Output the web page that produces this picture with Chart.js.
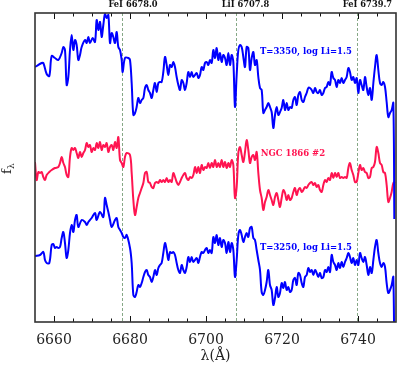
<!DOCTYPE html>
<html>
<head>
<meta charset="utf-8">
<script src="https://cdn.jsdelivr.net/npm/chart.js@4.4.1/dist/chart.umd.min.js"></script>
<style>
  html, body { margin: 0; padding: 0; background: #fff; }
  canvas { display: block; }
</style>
</head>
<body>
<canvas id="spec" width="397" height="365"></canvas>
<script>
// wavelength (A), relative flux (arbitrary, offset per spectrum)
const modelHot = [
  [6655.00,2.55],[6655.44,2.56],[6656.75,2.59],[6657.19,2.59],[6658.07,2.48],[6658.77,2.46],[6659.39,2.66],
  [6660.26,2.64],[6661.14,2.62],[6662.02,2.69],[6662.46,2.75],[6662.89,2.72],[6663.33,2.37],[6663.77,2.45],
  [6664.21,2.72],[6664.65,2.87],[6665.09,2.72],[6665.53,2.82],[6665.96,2.77],[6666.40,2.62],[6666.84,2.67],
  [6667.28,2.75],[6668.16,2.82],[6668.60,2.79],[6669.04,2.85],[6669.47,2.79],[6670.18,2.84],[6670.79,2.80],
  [6671.23,3.02],[6671.67,2.92],[6672.11,3.00],[6672.54,2.85],[6672.98,2.97],[6673.42,3.08],[6673.86,3.04],
  [6674.30,3.07],[6674.74,2.79],[6675.18,2.89],[6675.61,2.85],[6676.05,2.79],[6676.49,2.90],[6676.93,2.75],
  [6677.37,2.72],[6677.81,2.62],[6678.07,2.50],[6678.68,2.64],[6679.56,2.64],[6680.00,2.62],[6680.44,2.39],
  [6680.88,2.07],[6681.32,2.09],[6681.75,2.15],[6682.19,2.24],[6682.63,2.19],[6683.07,2.22],[6683.51,2.24],
  [6683.95,2.34],[6684.39,2.37],[6684.82,2.32],[6685.26,2.29],[6685.70,2.24],[6686.14,2.32],[6686.58,2.39],
  [6687.02,2.30],[6687.46,2.39],[6687.89,2.40],[6688.33,2.40],[6688.77,2.50],[6689.21,2.65],[6689.65,2.57],
  [6690.09,2.47],[6690.53,2.57],[6690.96,2.55],[6691.40,2.60],[6691.84,2.55],[6692.28,2.45],[6692.72,2.37],
  [6693.16,2.32],[6693.60,2.42],[6694.04,2.39],[6694.47,2.32],[6694.91,2.39],[6695.35,2.50],[6695.79,2.45],
  [6696.23,2.50],[6696.67,2.45],[6697.54,2.49],[6697.98,2.44],[6698.42,2.47],[6698.86,2.55],[6699.30,2.52],
  [6699.74,2.59],[6700.18,2.60],[6700.61,2.57],[6701.05,2.62],[6701.49,2.59],[6701.93,2.72],[6702.37,2.64],
  [6702.81,2.74],[6703.25,2.62],[6703.68,2.69],[6704.12,2.60],[6704.56,2.67],[6705.00,2.64],[6705.44,2.57],
  [6705.88,2.69],[6706.32,2.57],[6706.75,2.67],[6707.19,2.60],[6707.63,2.15],[6708.07,2.47],[6708.51,2.72],
  [6708.95,2.77],[6709.39,2.75],[6709.82,2.65],[6710.26,2.55],[6710.70,2.75],[6711.14,2.74],[6711.58,2.52],
  [6712.02,2.64],[6712.46,2.70],[6712.89,2.57],[6713.33,2.62],[6713.77,2.45],[6714.21,2.34],[6714.65,2.32],
  [6715.09,2.09],[6715.53,2.12],[6715.96,2.15],[6716.40,2.19],[6716.84,2.15],[6717.28,2.10],[6717.72,1.94],
  [6718.16,2.07],[6718.60,2.15],[6719.04,2.07],[6719.47,2.10],[6719.91,2.14],[6720.35,2.22],[6720.79,2.12],
  [6721.23,2.19],[6721.67,2.12],[6722.11,2.15],[6722.54,2.14],[6722.98,2.22],[6723.42,2.25],[6723.86,2.17],
  [6724.30,2.27],[6724.74,2.30],[6725.18,2.22],[6725.61,2.20],[6726.05,2.25],[6726.49,2.29],[6726.93,2.34],
  [6727.37,2.34],[6727.81,2.32],[6728.25,2.29],[6728.68,2.34],[6729.12,2.30],[6729.56,2.29],[6730.00,2.32],
  [6730.44,2.27],[6730.88,2.29],[6731.32,2.34],[6731.75,2.35],[6732.19,2.40],[6732.63,2.37],[6733.07,2.50],
  [6733.51,2.44],[6733.95,2.42],[6734.39,2.35],[6734.82,2.42],[6735.26,2.39],[6735.70,2.44],[6736.14,2.39],
  [6736.58,2.42],[6737.02,2.45],[6737.46,2.54],[6737.89,2.50],[6738.33,2.42],[6738.77,2.45],[6739.21,2.39],
  [6739.65,2.44],[6740.09,2.29],[6740.53,2.42],[6740.96,2.37],[6741.40,2.32],[6741.84,2.45],[6742.28,2.35],
  [6742.72,2.27],[6743.16,2.34],[6743.60,2.22],[6744.04,2.39],[6744.47,2.55],[6744.91,2.67],[6745.35,2.52],
  [6745.79,2.39],[6746.23,2.37],[6746.67,2.40],[6747.11,2.35],[6747.54,2.20],[6747.98,2.05],[6748.42,2.09],
  [6748.86,2.12],[6749.30,2.19],[6749.56,1.03]
];

const ngc1866 = [
  [6655.00,1.60],[6655.44,1.42],[6655.88,1.50],[6656.32,1.49],[6656.75,1.50],[6657.19,1.45],[6657.63,1.42],
  [6658.07,1.47],[6658.77,1.50],[6659.39,1.52],[6660.26,1.54],[6661.14,1.55],[6661.58,1.59],[6662.02,1.65],
  [6662.46,1.59],[6662.89,1.55],[6663.33,1.47],[6663.77,1.45],[6664.21,1.65],[6664.65,1.74],[6665.09,1.72],
  [6665.53,1.74],[6665.96,1.69],[6666.40,1.64],[6666.84,1.70],[6667.28,1.65],[6667.72,1.69],[6668.16,1.72],
  [6668.60,1.79],[6669.04,1.75],[6669.47,1.77],[6669.91,1.70],[6670.35,1.74],[6670.79,1.72],[6671.23,1.79],
  [6671.67,1.74],[6672.11,1.80],[6672.54,1.72],[6672.98,1.77],[6673.42,1.75],[6673.86,1.79],[6674.30,1.70],
  [6674.74,1.75],[6675.18,1.77],[6675.61,1.72],[6676.05,1.80],[6676.49,1.74],[6676.93,1.85],[6677.37,1.62],
  [6677.81,1.59],[6678.25,1.55],[6678.68,1.65],[6679.12,1.69],[6680.00,1.67],[6680.44,1.49],[6680.88,1.22],
  [6681.32,1.07],[6681.75,1.15],[6682.19,1.24],[6682.63,1.29],[6683.07,1.34],[6683.51,1.39],[6683.95,1.49],
  [6684.39,1.50],[6684.82,1.40],[6685.26,1.39],[6685.70,1.35],[6686.14,1.34],[6686.58,1.39],[6687.02,1.40],
  [6687.46,1.39],[6687.89,1.42],[6688.33,1.40],[6688.77,1.42],[6689.21,1.40],[6689.65,1.44],[6690.09,1.40],
  [6690.53,1.42],[6690.96,1.40],[6691.40,1.49],[6691.84,1.45],[6692.28,1.40],[6692.72,1.37],[6693.16,1.40],
  [6693.60,1.44],[6694.04,1.47],[6694.47,1.49],[6694.91,1.44],[6695.35,1.42],[6695.79,1.45],[6696.23,1.44],
  [6696.67,1.47],[6697.11,1.55],[6697.54,1.49],[6697.98,1.55],[6698.42,1.49],[6698.86,1.57],[6699.30,1.52],
  [6699.74,1.55],[6700.18,1.54],[6700.61,1.59],[6701.05,1.54],[6701.49,1.59],[6701.93,1.55],[6702.37,1.62],
  [6702.81,1.55],[6703.25,1.59],[6703.68,1.55],[6704.12,1.62],[6704.56,1.55],[6705.00,1.60],[6705.44,1.54],
  [6705.88,1.59],[6706.32,1.55],[6706.75,1.62],[6707.19,1.57],[6707.63,1.24],[6708.07,1.35],[6708.51,1.69],
  [6708.95,1.75],[6709.39,1.67],[6709.82,1.60],[6710.26,1.70],[6710.70,1.82],[6711.14,1.72],[6711.58,1.59],
  [6712.02,1.65],[6712.46,1.67],[6712.89,1.62],[6713.33,1.70],[6713.77,1.49],[6714.21,1.32],[6714.65,1.24],
  [6715.09,1.12],[6715.53,1.20],[6715.96,1.25],[6716.40,1.32],[6716.84,1.27],[6717.28,1.22],[6717.72,1.17],
  [6718.16,1.25],[6718.60,1.29],[6719.04,1.22],[6719.47,1.15],[6719.91,1.24],[6720.35,1.32],[6720.79,1.29],
  [6721.23,1.22],[6721.67,1.27],[6722.11,1.22],[6722.54,1.24],[6722.98,1.30],[6723.42,1.34],[6723.86,1.27],
  [6724.30,1.32],[6724.74,1.34],[6725.18,1.30],[6725.61,1.32],[6726.05,1.35],[6726.49,1.34],[6726.93,1.37],
  [6727.37,1.39],[6727.81,1.40],[6728.25,1.37],[6728.68,1.39],[6729.12,1.35],[6729.56,1.37],[6730.00,1.32],
  [6730.44,1.30],[6730.88,1.37],[6731.32,1.42],[6731.75,1.40],[6732.19,1.44],[6732.63,1.42],[6733.07,1.49],
  [6733.51,1.44],[6733.95,1.49],[6734.39,1.45],[6734.82,1.49],[6735.26,1.44],[6735.70,1.45],[6736.14,1.44],
  [6736.58,1.45],[6737.02,1.44],[6737.46,1.54],[6737.89,1.59],[6738.33,1.52],[6738.77,1.47],[6739.21,1.40],
  [6739.65,1.40],[6740.09,1.49],[6740.53,1.57],[6740.96,1.52],[6741.40,1.54],[6741.84,1.50],[6742.28,1.49],
  [6742.72,1.44],[6743.16,1.45],[6743.60,1.54],[6744.04,1.55],[6744.47,1.60],[6744.91,1.75],[6745.35,1.69],
  [6745.79,1.59],[6746.23,1.57],[6746.67,1.50],[6747.11,1.49],[6747.54,1.37],[6747.98,1.20],[6748.42,1.24],
  [6748.86,1.30],[6749.30,1.39],[6749.74,1.40]
];

const modelCool = [
  [6655.00,0.66],[6656.32,0.67],[6657.19,0.70],[6657.63,0.62],[6658.07,0.59],[6658.77,0.59],[6659.39,0.77],
  [6659.82,0.78],[6660.26,0.74],[6660.70,0.75],[6661.14,0.74],[6661.58,0.75],[6662.02,0.84],[6662.46,0.90],
  [6662.89,0.79],[6663.33,0.64],[6663.77,0.72],[6664.21,0.89],[6664.65,0.97],[6665.09,0.90],[6665.53,1.02],
  [6665.96,1.07],[6666.40,0.95],[6667.28,1.02],[6668.16,1.00],[6668.60,0.97],[6669.04,1.00],[6669.91,1.04],
  [6670.79,1.09],[6671.23,1.02],[6672.11,1.10],[6672.98,1.05],[6673.42,1.24],[6673.86,1.17],[6674.30,1.10],
  [6674.74,1.02],[6675.18,0.95],[6676.05,1.02],[6676.49,1.04],[6676.93,0.95],[6677.37,0.92],[6677.81,0.89],
  [6678.25,0.85],[6678.68,0.84],[6679.12,0.87],[6680.00,0.74],[6680.44,0.59],[6680.88,0.27],[6681.32,0.25],
  [6681.75,0.30],[6682.19,0.37],[6682.63,0.35],[6683.07,0.39],[6683.51,0.45],[6683.95,0.50],[6684.39,0.52],
  [6684.82,0.47],[6685.26,0.45],[6685.70,0.40],[6686.14,0.45],[6686.58,0.52],[6687.02,0.47],[6687.46,0.54],
  [6687.89,0.57],[6688.33,0.59],[6688.77,0.69],[6689.21,0.79],[6689.65,0.72],[6690.09,0.62],[6690.53,0.70],
  [6690.96,0.69],[6691.40,0.70],[6691.84,0.67],[6692.28,0.59],[6692.72,0.52],[6693.16,0.49],[6693.60,0.57],
  [6694.04,0.52],[6694.47,0.49],[6694.91,0.55],[6695.35,0.65],[6695.79,0.60],[6696.23,0.65],[6696.67,0.60],
  [6697.54,0.64],[6697.98,0.59],[6698.42,0.65],[6698.86,0.70],[6699.30,0.69],[6699.74,0.72],[6700.18,0.74],
  [6700.61,0.69],[6701.05,0.72],[6701.49,0.69],[6701.93,0.85],[6702.37,0.79],[6702.81,0.87],[6703.25,0.77],
  [6703.68,0.84],[6704.12,0.75],[6704.56,0.82],[6705.00,0.79],[6705.44,0.69],[6705.88,0.80],[6706.32,0.70],
  [6706.75,0.79],[6707.19,0.72],[6707.63,0.45],[6708.07,0.62],[6708.51,0.87],[6708.95,0.92],[6709.39,0.87],
  [6709.82,0.80],[6710.26,0.85],[6710.70,0.89],[6711.14,0.85],[6711.58,0.94],[6712.02,0.95],[6712.46,0.84],
  [6712.89,0.82],[6713.33,0.72],[6713.77,0.62],[6714.21,0.52],[6714.65,0.30],[6715.09,0.27],[6715.53,0.32],
  [6715.96,0.40],[6716.40,0.52],[6716.84,0.37],[6717.28,0.32],[6717.72,0.17],[6718.16,0.24],[6718.60,0.35],
  [6719.04,0.25],[6719.47,0.29],[6719.91,0.39],[6720.35,0.34],[6720.79,0.40],[6721.23,0.32],[6721.67,0.35],
  [6722.11,0.30],[6722.54,0.32],[6722.98,0.42],[6723.42,0.44],[6723.86,0.37],[6724.30,0.49],[6724.74,0.47],
  [6725.18,0.39],[6725.61,0.35],[6726.05,0.45],[6726.49,0.47],[6726.93,0.54],[6727.37,0.50],[6727.81,0.52],
  [6728.25,0.47],[6728.68,0.52],[6729.12,0.49],[6729.56,0.45],[6730.00,0.49],[6730.44,0.44],[6730.88,0.45],
  [6731.32,0.52],[6731.75,0.50],[6732.19,0.55],[6732.63,0.50],[6733.07,0.67],[6733.51,0.60],[6733.95,0.57],
  [6734.39,0.52],[6734.82,0.59],[6735.26,0.54],[6735.70,0.60],[6736.14,0.55],[6736.58,0.60],[6737.02,0.64],
  [6737.46,0.69],[6737.89,0.65],[6738.33,0.59],[6738.77,0.64],[6739.21,0.57],[6739.65,0.62],[6740.09,0.57],
  [6740.53,0.69],[6740.96,0.64],[6741.40,0.60],[6741.84,0.65],[6742.28,0.57],[6742.72,0.47],[6743.16,0.55],
  [6743.60,0.49],[6744.04,0.62],[6744.47,0.75],[6744.91,0.82],[6745.35,0.69],[6745.79,0.59],[6746.23,0.55],
  [6746.67,0.59],[6747.11,0.55],[6747.54,0.39],[6747.98,0.29],[6748.42,0.32],[6748.86,0.37],[6749.30,0.45],
  [6749.56,-0.50]
];

const xTicks = [6660, 6680, 6700, 6720, 6740];
const lineWaves = [6678.0, 6707.8, 6739.7];
const lineNames = ['FeI 6678.0', 'LiI 6707.8', 'FeI 6739.7'];
const specLabels = ['T=3350, log Li=1.5', 'NGC 1866 #2', 'T=3250, log Li=1.5'];
const labelAt = [[6714.2, 2.70], [6714.4, 1.68], [6714.2, 0.74]];

const BLUE = '#0000ff';
const RED = '#ff1450';
const labelColors = [BLUE, RED, BLUE];
const SERIF = '"DejaVu Serif", serif';

const toXY = arr => arr.map(p => ({ x: p[0], y: p[1] }));

// frame, inward ticks, dashed line markers and text
const decor = {
  id: 'decor',
  beforeDatasetsDraw(chart) {
    const { ctx, chartArea: a, scales: { x } } = chart;
    ctx.save();
    ctx.strokeStyle = '#86a886';
    ctx.lineWidth = 1;
    ctx.setLineDash([3, 2]);
    lineWaves.forEach(w => {
      const px = Math.round(x.getPixelForValue(w)) + 0.5;
      ctx.beginPath();
      ctx.moveTo(px, a.top);
      ctx.lineTo(px, a.bottom);
      ctx.stroke();
    });
    ctx.restore();
  },
  afterDatasetsDraw(chart) {
    const { ctx, chartArea: a, scales: { x, y } } = chart;
    ctx.save();
    // minor / major ticks
    ctx.strokeStyle = '#111';
    ctx.lineWidth = 1;
    for (let w = 6660; w < 6750; w += 5) {
      const px = Math.round(x.getPixelForValue(w)) + 0.5;
      const len = (w % 20 === 0) ? 6 : 3.5;
      ctx.beginPath();
      ctx.moveTo(px, a.bottom); ctx.lineTo(px, a.bottom - len);
      ctx.moveTo(px, a.top); ctx.lineTo(px, a.top + len);
      ctx.stroke();
    }
    // frame
    ctx.strokeStyle = '#333';
    ctx.lineWidth = 1.6;
    ctx.strokeRect(a.left, a.top, a.right - a.left, a.bottom - a.top);

    // line ids on top
    ctx.fillStyle = '#111';
    ctx.font = 'bold 8.3px ' + SERIF;
    ctx.textBaseline = 'middle';
    ctx.textAlign = 'left';
    lineWaves.forEach((w, i) => {
      ctx.fillText(lineNames[i], x.getPixelForValue(w) - 14, 5);
    });

    // spectrum labels
    ctx.font = 'bold 8.5px ' + SERIF;
    specLabels.forEach((t, i) => {
      ctx.fillStyle = labelColors[i];
      ctx.fillText(t, x.getPixelForValue(labelAt[i][0]), y.getPixelForValue(labelAt[i][1]));
    });

    // y title f_lambda
    ctx.fillStyle = '#222';
    ctx.translate(11, 170);
    ctx.rotate(-Math.PI / 2);
    ctx.textAlign = 'left';
    ctx.textBaseline = 'alphabetic';
    ctx.font = '13px ' + SERIF;
    ctx.fillText('f', -4, 0);
    ctx.font = '9px ' + SERIF;
    ctx.fillText('λ', 1, 3);
    ctx.restore();
  }
};

const lineStyle = { borderWidth: 2, pointRadius: 0, tension: 0.35, clip: 0 };

new Chart(document.getElementById('spec').getContext('2d'), {
  type: 'line',
  data: {
    datasets: [
      { data: toXY(modelHot), borderColor: BLUE, ...lineStyle },
      { data: toXY(ngc1866), borderColor: RED, ...lineStyle },
      { data: toXY(modelCool), borderColor: BLUE, ...lineStyle }
    ]
  },
  options: {
    responsive: false,
    animation: false,
    layout: { padding: { left: 35, right: 1, top: 13, bottom: 0 } },
    plugins: { legend: { display: false }, tooltip: { enabled: false } },
    scales: {
      x: {
        type: 'linear',
        min: 6655,
        max: 6750,
        grid: { display: false, drawTicks: false },
        border: { display: false },
        afterBuildTicks: s => { s.ticks = xTicks.map(v => ({ value: v })); },
        afterFit: s => { s.height = 43; },
        ticks: {
          font: { family: SERIF, size: 14 },
          color: '#222',
          padding: 10,
          maxRotation: 0,
          autoSkip: false,
          callback: v => String(v)
        },
        title: {
          display: true,
          text: 'λ(Å)',
          font: { family: SERIF, size: 14 },
          color: '#222',
          padding: { top: 0, bottom: 0 }
        }
      },
      y: { display: false, min: 0, max: 3.09 }
    }
  },
  plugins: [decor]
});
</script>
</body>
</html>
